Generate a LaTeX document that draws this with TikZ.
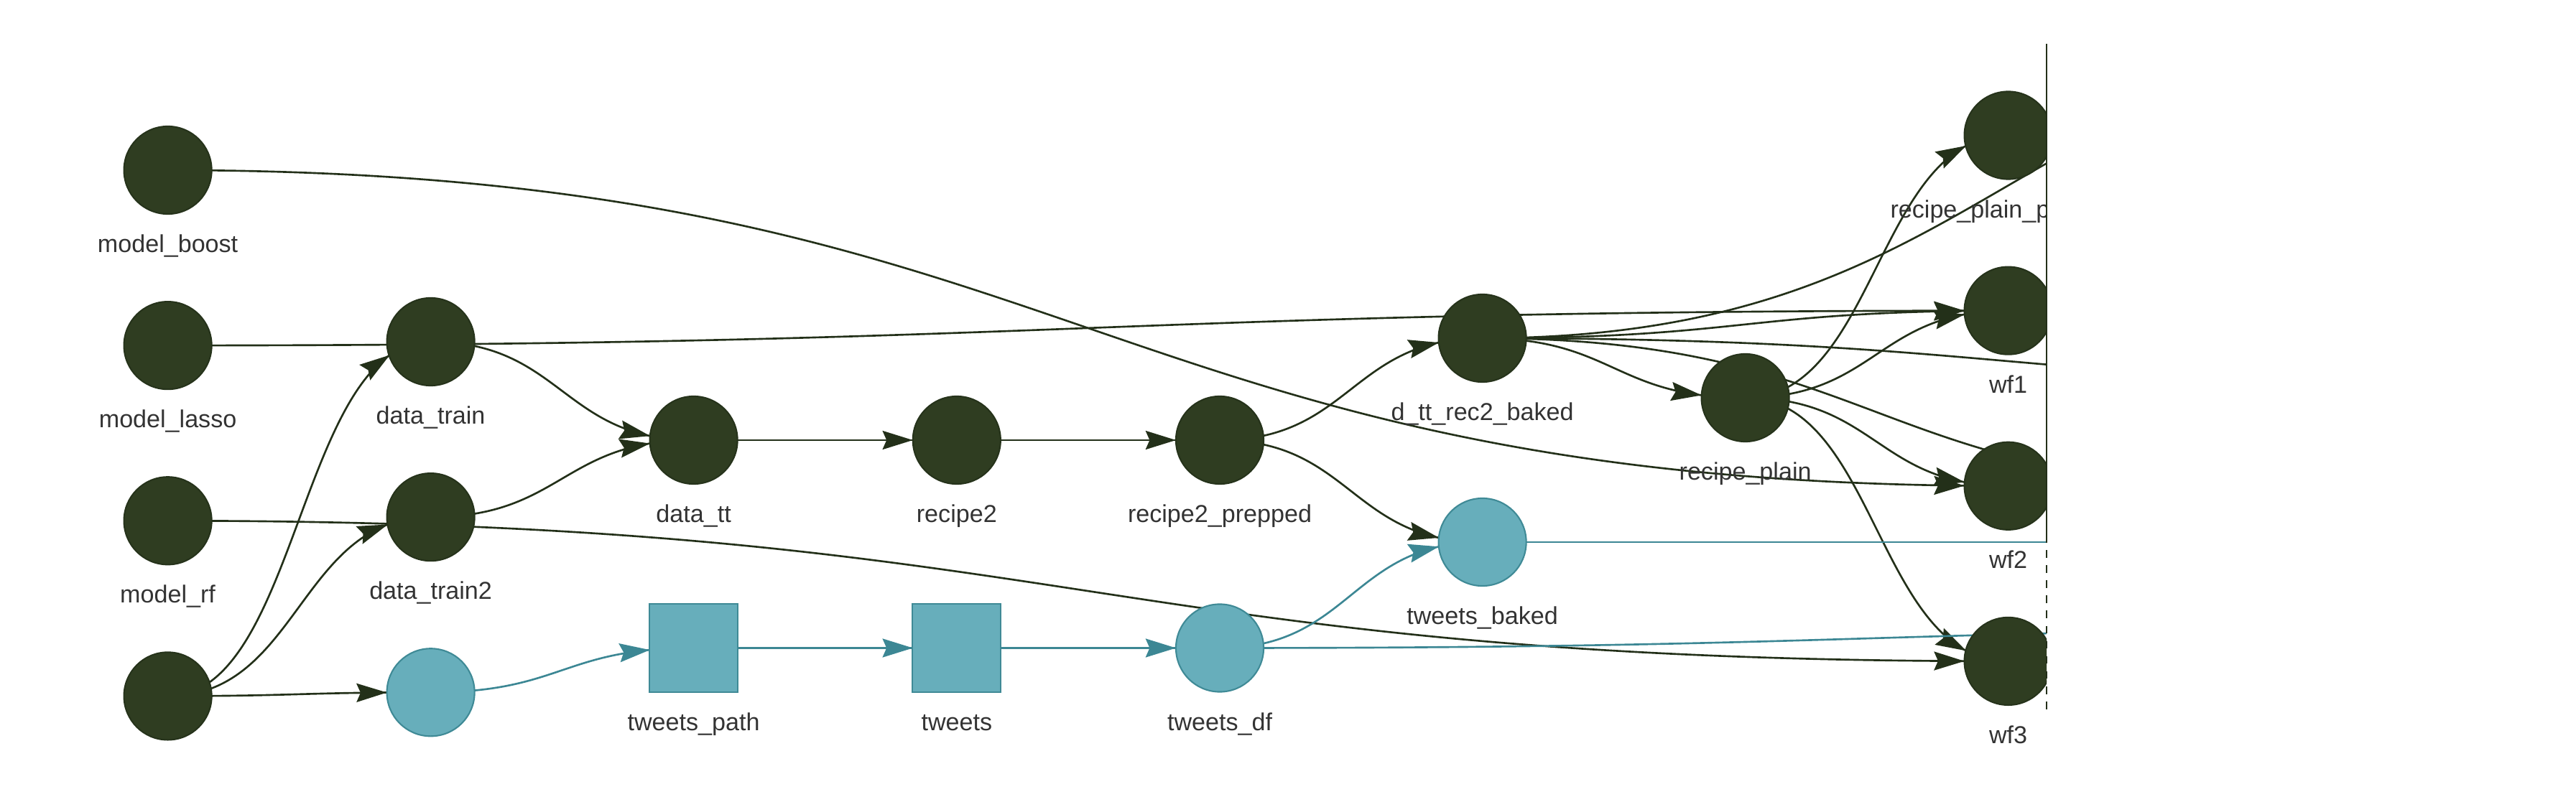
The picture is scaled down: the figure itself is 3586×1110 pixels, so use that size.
\documentclass[tikz,border=0pt]{standalone}
\usepackage{fontspec}
\setmainfont{Liberation Sans}
\usetikzlibrary{positioning,calc,arrows.meta,decorations.markings}

\definecolor{dkfill}{RGB}{47,61,33}
\definecolor{dkline}{RGB}{38,51,27}
\definecolor{dkedge}{RGB}{35,48,25}
\definecolor{cyfill}{RGB}{103,174,187}
\definecolor{cyline}{RGB}{63,138,150}
\definecolor{cyedge}{RGB}{60,135,148}
\definecolor{lbltext}{RGB}{51,51,51}

\pgfdeclarelayer{edges}
\pgfsetlayers{edges,main}

\begin{document}
\begin{tikzpicture}[x=0.01cm, y=-0.01cm, node distance=2.44cm, label distance=0.262cm,
    >={Stealth[length=12pt,width=7.4pt,inset=1.6pt]}]

       \tikzset{dk/.style = {circle, draw=dkline, fill=dkfill, line width=0.6pt, minimum size=1.22cm, inner sep=0pt}, }
       \tikzset{cy/.style = {dk, draw=cyline, fill=cyfill}, }
       \tikzset{cysq/.style = {cy, rectangle, minimum size=1.23cm}, }
       \tikzset{lbl/.style = {font=\fontsize{9.7}{11.5}\selectfont, text=lbltext, inner sep=0pt, text height=7.3pt, text depth=2.5pt}, }
       \tikzset{hz/.style = {to path={let \p1=(\tikztostart), \p2=(\tikztotarget) in
           .. controls ({(\x1+\x2)/2},\y1) and ({(\x1+\x2)/2},\y2) .. (\tikztotarget)}}, }
       \tikzset{link/.style = {draw, color=dkedge, line width=0.75pt, hz}, }
       \tikzset{cylink/.style = {link, color=cyedge}, }
       \tikzset{head/.style = {postaction={decorate, decoration={markings,
           mark=at position -0.61cm with {\arrow{>}}}}}, }

       \useasboundingbox (0,0) rectangle (3586,1110);

       % targets and files
       \begin{scope}
       \clip (0,0) rectangle (2849,1110);
       \node[dk, label={[lbl]below:model\_boost}] (mboost) at (233.6,237) {};
       \node[dk, below of=mboost, label={[lbl]below:model\_lasso}] (mlasso) {};
       \node[dk, below of=mlasso, label={[lbl]below:model\_rf}] (mrf) {};
       \node[dk, below of=mrf] (src) {};

       \node[dk, label={[lbl]below:data\_train}] (dtrain) at (599.6,476) {};
       \node[dk, below of=dtrain, label={[lbl]below:data\_train2}] (dtrain2) {};
       \node[cy, below of=dtrain2] (fin) {};

       \node[dk, label={[lbl]below:data\_tt}] (dtt) at (965.6,613) {};
       \node[dk, right of=dtt, node distance=3.66cm, label={[lbl]below:recipe2}] (rec2) {};
       \node[dk, right of=rec2, node distance=3.66cm, label={[lbl]below:recipe2\_prepped}] (rec2p) {};

       \node[cysq, label={[lbl]below:tweets\_path}] (tpath) at (965.6,902.5) {};
       \node[cysq, right of=tpath, node distance=3.66cm, label={[lbl]below:tweets}] (tweets) {};
       \node[cy, right of=tweets, node distance=3.66cm, label={[lbl]below:tweets\_df}] (tdf) {};

       \node[dk, label={[lbl]below:d\_tt\_rec2\_baked}] (dttb) at (2063.6,471) {};
       \node[cy, label={[lbl]below:tweets\_baked}] (tbaked) at (2063.6,755) {};
       \node[dk, label={[lbl]below:recipe\_plain}] (rplain) at (2429.6,554) {};

       \node[dk, label={[lbl]below:recipe\_plain\_prepped}] (rpp) at (2795.6,188.5) {};
       \node[dk, below of=rpp, label={[lbl]below:wf1}] (wf1) {};
       \node[dk, below of=wf1, label={[lbl]below:wf2}] (wf2) {};
       \node[dk, below of=wf2, label={[lbl]below:wf3}] (wf3) {};
       \end{scope}

       % ends beyond the view
       \coordinate (outA) at (3527,46);
       \coordinate (outB) at (3527,535);
       \coordinate (outC) at (3161,677);
       \coordinate (outD) at (3527,875);
       \coordinate (outE) at (3161,755);

       \begin{pgfonlayer}{edges}
       \clip (0,0) rectangle (2849,1110);
       \path (src.center) edge[link,head] (dtrain.center)
                          edge[link,head] (dtrain2.center)
                          edge[link,head] (fin.center);
       \path (mboost.center) edge[link,head] (wf2.center);
       \path (mlasso.center) edge[link,head] (wf1.center);
       \path (mrf.center) edge[link,head] (wf3.center);
       \path (dtrain.center) edge[link,head] (dtt.center);
       \path (dtrain2.center) edge[link,head] (dtt.center);
       \path (dtt.center) edge[link,head] (rec2.center);
       \path (rec2.center) edge[link,head] (rec2p.center);
       \path (rec2p.center) edge[link,head] (dttb.center)
                            edge[link,head] (tbaked.center);
       \path (dttb.center) edge[link,head] (rplain.center)
                           edge[link,head] (wf1.center)
                           edge[link] (outA)
                           edge[link] (outB)
                           edge[link] (outC);
       \path (rplain.center) edge[link,head] (rpp.center)
                             edge[link,head] (wf1.center)
                             edge[link,head] (wf2.center)
                             edge[link,head] (wf3.center);
       \path (fin.center) edge[cylink,head] (tpath.center);
       \path (tpath.center) edge[cylink,head] (tweets.center);
       \path (tweets.center) edge[cylink,head] (tdf.center);
       \path (tdf.center) edge[cylink,head] (tbaked.center)
                          edge[cylink] (outD);
       \path (tbaked.center) edge[cylink] (outE);
       \end{pgfonlayer}

       % view border
       \coordinate (bordertop) at (2849,61);
       \coordinate (bordermid) at (2849,745);
       \coordinate (borderbot) at (2849,990);
       \draw[dkedge, line width=0.45pt] (bordertop) -- (bordermid);
       \draw[dkedge, line width=0.45pt, dashed] (bordermid) -- (borderbot);

\end{tikzpicture}
\end{document}
